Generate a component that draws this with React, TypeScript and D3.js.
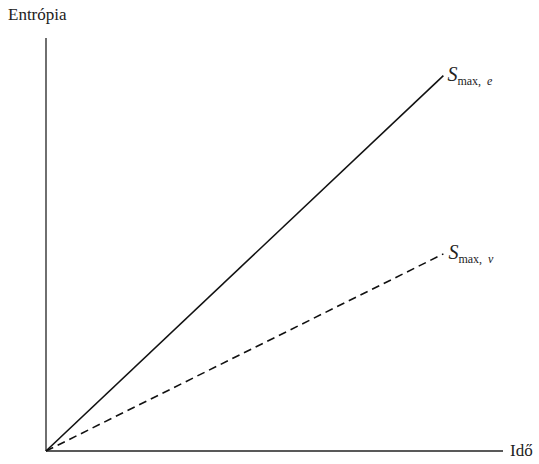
import React from "react";
import * as d3 from "d3";

const timeValues = [0, 10];
const entropyMaxE = [0, 10];
const entropyMaxV = [0, 5.25];
const axisLabels = { y: "Entrópia", x: "Idő" };

export default function App() {
  const W = 539, H = 464;
  const x = d3.scaleLinear().domain([0, 11.5]).range([46, 503]);
  const y = d3.scaleLinear().domain([0, 11]).range([451, 38]);
  const line = d3.line<[number, number]>().x(d => x(d[0])).y(d => y(d[1]));
  const solid = timeValues.map((t, i) => [t, entropyMaxE[i]] as [number, number]);
  const dashed = timeValues.map((t, i) => [t, entropyMaxV[i]] as [number, number]);
  const font = "'Liberation Serif', 'Times New Roman', serif";
  return (
    <svg width={W} height={H} style={{ position: "absolute", left: 0, top: 0, background: "#fff" }}>
      <line x1={x(0)} y1={y(0)} x2={x(0)} y2={y(11)} stroke="#222" strokeWidth={1.3} />
      <line x1={x(0)} y1={y(0)} x2={x(11.5)} y2={y(0)} stroke="#222" strokeWidth={1.3} />
      <path d={line(solid) || ""} stroke="#111" strokeWidth={1.6} fill="none" />
      <path d={line(dashed) || ""} stroke="#111" strokeWidth={1.6} fill="none" strokeDasharray="8,5" />
      <text x={8} y={20} fontFamily={font} fontSize={17} fill="#222">{axisLabels.y}</text>
      <text x={510} y={456} fontFamily={font} fontSize={17} fill="#222">{axisLabels.x}</text>
      <text x={x(10) + 4} y={y(10) + 5} fontFamily={font} fill="#222">
        <tspan fontSize={20} fontStyle="italic">S</tspan>
        <tspan fontSize={12} dy={4}>max,</tspan>
        <tspan fontSize={12} dx={6} fontStyle="italic">e</tspan>
      </text>
      <text x={x(10) + 5} y={y(5.25) + 5} fontFamily={font} fill="#222">
        <tspan fontSize={20} fontStyle="italic">S</tspan>
        <tspan fontSize={12} dy={4}>max,</tspan>
        <tspan fontSize={12} dx={6} fontStyle="italic">v</tspan>
      </text>
    </svg>
  );
}
